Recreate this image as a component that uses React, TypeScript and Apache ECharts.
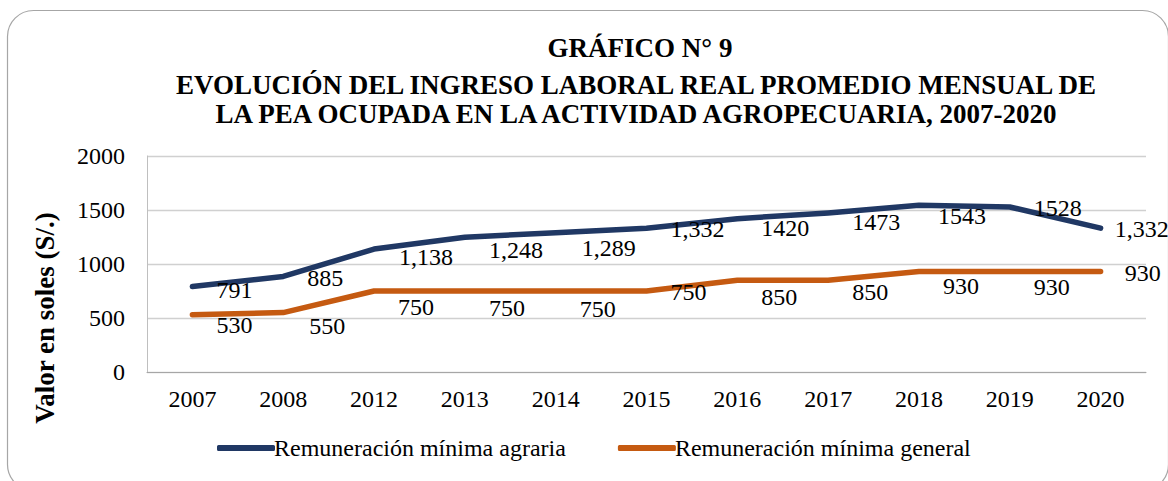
import React, { useEffect, useRef } from "react";
import * as echarts from "echarts";

const years = ["2007", "2008", "2012", "2013", "2014", "2015", "2016", "2017", "2018", "2019", "2020"];
const agraria = [791, 885, 1138, 1248, 1289, 1332, 1420, 1473, 1543, 1528, 1332];
const agrariaLabels = ["791", "885", "1,138", "1,248", "1,289", "1,332", "1420", "1473", "1543", "1528", "1,332"];
const general = [530, 550, 750, 750, 750, 750, 850, 850, 930, 930, 930];
const generalLabels = ["530", "550", "750", "750", "750", "750", "850", "850", "930", "930", "930"];
const yTicks = [0, 500, 1000, 1500, 2000];

// label nudges (style only)
const agrariaDy = [3, 2, 8, 13, 15, 1, 9, 9, 11, 1, 1];
const agrariaDx = [0, 0, 1, 0, 2, 0, 0, 0, -5, 0, -10];
const generalDy = [10, 13, 16, 17, 18, 1, 17, 12, 14, 15, 1];
const generalDx = [0, 2, 0, 0, 0, 0, 0, 0, 0, 0, 0];

const FONT = '"Liberation Serif", "Times New Roman", serif';
const BLUE = "#203864";
const ORANGE = "#C55A11";

export default function App() {
  const ref = useRef<HTMLDivElement>(null);
  useEffect(() => {
    if (!ref.current) return;
    const chart = echarts.init(ref.current, undefined, { renderer: "svg" });
    const mk = (vals: number[], labels: string[], dx: number[], dy: number[]) =>
      vals.map((v, i) => ({
        value: v,
        label: { offset: [dx[i], dy[i]], formatter: labels[i] },
      }));
    const labelStyle = {
      show: true,
      position: "right",
      distance: 24,
      color: "#000",
      opacity: 1,
      fontSize: 24,
      fontFamily: FONT,
    };
    chart.setOption({
      animation: false,
      backgroundColor: "#ffffff",
      textStyle: { fontFamily: FONT },
      graphic: [
        {
          type: "rect",
          shape: { x: 7.5, y: 10.5, width: 1161, height: 480, r: 26 },
          style: { fill: "none", stroke: "#A6A6A6", lineWidth: 1.2 },
          silent: true,
        },
        {
          type: "text",
          x: 640,
          y: 48,
          style: { text: "GRÁFICO N° 9", textAlign: "center", textVerticalAlign: "middle", font: `bold 27px ${FONT}`, fill: "#000" },
        },
        {
          type: "text",
          x: 636,
          y: 85,
          style: { text: "EVOLUCIÓN DEL INGRESO LABORAL REAL PROMEDIO MENSUAL DE", textAlign: "center", textVerticalAlign: "middle", font: `bold 27px ${FONT}`, fill: "#000" },
        },
        {
          type: "text",
          x: 636,
          y: 114,
          style: { text: "LA PEA OCUPADA EN LA ACTIVIDAD AGROPECUARIA, 2007-2020", textAlign: "center", textVerticalAlign: "middle", font: `bold 27px ${FONT}`, fill: "#000" },
        },
        {
          type: "text",
          x: 45,
          y: 318,
          rotation: Math.PI / 2,
          style: { text: "Valor en soles (S/.)", textAlign: "center", textVerticalAlign: "middle", font: `bold 27px ${FONT}`, fill: "#000" },
        },
      ],
      grid: { left: 147, right: 22, top: 156, bottom: 109, containLabel: false },
      xAxis: {
        type: "category",
        data: years,
        boundaryGap: true,
        axisLine: { show: true, lineStyle: { color: "#A6A6A6", width: 1 } },
        axisTick: { show: false },
        axisLabel: { color: "#000", fontSize: 24, fontFamily: FONT, margin: 15 },
      },
      yAxis: {
        type: "value",
        min: yTicks[0],
        max: yTicks[yTicks.length - 1],
        interval: 500,
        axisLine: { show: true, lineStyle: { color: "#BFBFBF", width: 1 } },
        axisTick: { show: false },
        axisLabel: { color: "#000", fontSize: 24, fontFamily: FONT, margin: 22, formatter: (v: number) => String(v) },
        splitLine: { show: true, lineStyle: { color: "#D0D0D0", width: 1.3 } },
      },
      legend: {
        bottom: 16,
        left: 212,
        itemWidth: 58,
        itemHeight: 6,
        itemGap: 52,
        textStyle: { color: "#000", fontSize: 24, fontFamily: FONT, padding: [0, 0, 0, -6] },
        data: [
          { name: "Remuneración mínima agraria", icon: "roundRect", itemStyle: { color: BLUE, opacity: 1 } },
          { name: "Remuneración mínima general", icon: "roundRect", itemStyle: { color: ORANGE, opacity: 1 } },
        ],
      },
      series: [
        {
          name: "Remuneración mínima agraria",
          type: "line",
          data: mk(agraria, agrariaLabels, agrariaDx, agrariaDy),
          symbol: "circle",
          symbolSize: 0.1,
          showSymbol: true,
          color: BLUE,
          itemStyle: { color: "rgba(0,0,0,0)", borderWidth: 0 },
          lineStyle: { color: BLUE, width: 5.5, cap: "round", join: "round" },
          label: labelStyle,
        },
        {
          name: "Remuneración mínima general",
          type: "line",
          data: mk(general, generalLabels, generalDx, generalDy),
          symbol: "circle",
          symbolSize: 0.1,
          showSymbol: true,
          color: ORANGE,
          itemStyle: { color: "rgba(0,0,0,0)", borderWidth: 0 },
          lineStyle: { color: ORANGE, width: 5.5, cap: "round", join: "round" },
          label: labelStyle,
        },
      ],
    });
    return () => chart.dispose();
  }, []);
  return (
    <div
      ref={ref}
      style={{ position: "fixed", left: 0, top: 0, width: 1168, height: 481 }}
    />
  );
}
